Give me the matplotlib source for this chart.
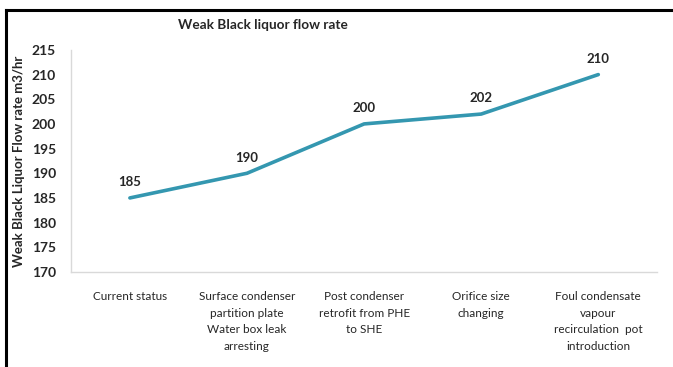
import matplotlib.pyplot as plt
from matplotlib.lines import Line2D

categories = ['Current status',
              'Surface condenser\npartition plate\nWater box leak\narresting',
              'Post condenser\nretrofit from PHE\nto SHE',
              'Orifice size\nchanging',
              'Foul condensate\nvapour\nrecirculation  pot\nintroduction']
flow = [185, 190, 200, 202, 210]
yticks = [170, 175, 180, 185, 190, 195, 200, 205, 210, 215]

plt.rcParams['font.family'] = ['Lato', 'DejaVu Sans']

fig = plt.figure(figsize=(6.73, 3.67), dpi=100, facecolor='white')
ax = fig.add_axes([0.106, 0.259, 0.870, 0.605])

x = list(range(len(flow)))
ax.plot(x, flow, color='#3497b0', lw=2.6, solid_capstyle='round')
for xi, v in zip(x, flow):
    ax.annotate(str(v), (xi, v), xytext=(0, 7), textcoords='offset points',
                ha='center', va='bottom', fontsize=9.5, fontweight='bold',
                color='#262626')

ax.set_xlim(-0.5, len(flow) - 0.5)
ax.set_ylim(170, 215)
ax.set_yticks(yticks)
ax.set_yticklabels([str(t) for t in yticks], fontsize=10, fontweight='bold',
                   color='#262626')
ax.set_xticks(x)
ax.set_xticklabels(categories, fontsize=8.5, color='#262626', linespacing=1.6)
ax.tick_params(axis='both', length=0)
ax.tick_params(axis='x', pad=14)
ax.tick_params(axis='y', pad=11)

for s in ['top', 'right']:
    ax.spines[s].set_visible(False)
for s in ['left', 'bottom']:
    ax.spines[s].set_color('#d9d9d9')
    ax.spines[s].set_linewidth(1.0)

ax.set_ylabel('Weak Black Liquor Flow rate m3/hr', fontsize=9.5,
              fontweight='bold', color='#262626', labelpad=5)

fig.text(0.39, 0.932, 'Weak Black liquor flow rate', ha='center', va='center',
         fontsize=9.8, fontweight='bold', color='#262626')

# outer frame (left and top edges only visible)
fig.add_artist(Line2D([0.009, 0.009], [0.0, 0.973], transform=fig.transFigure,
                      color='black', lw=2.2))
fig.add_artist(Line2D([0.009, 1.0], [0.973, 0.973], transform=fig.transFigure,
                      color='black', lw=2.2))

fig.savefig('out.png', dpi=100, facecolor='white')
plt.close()
